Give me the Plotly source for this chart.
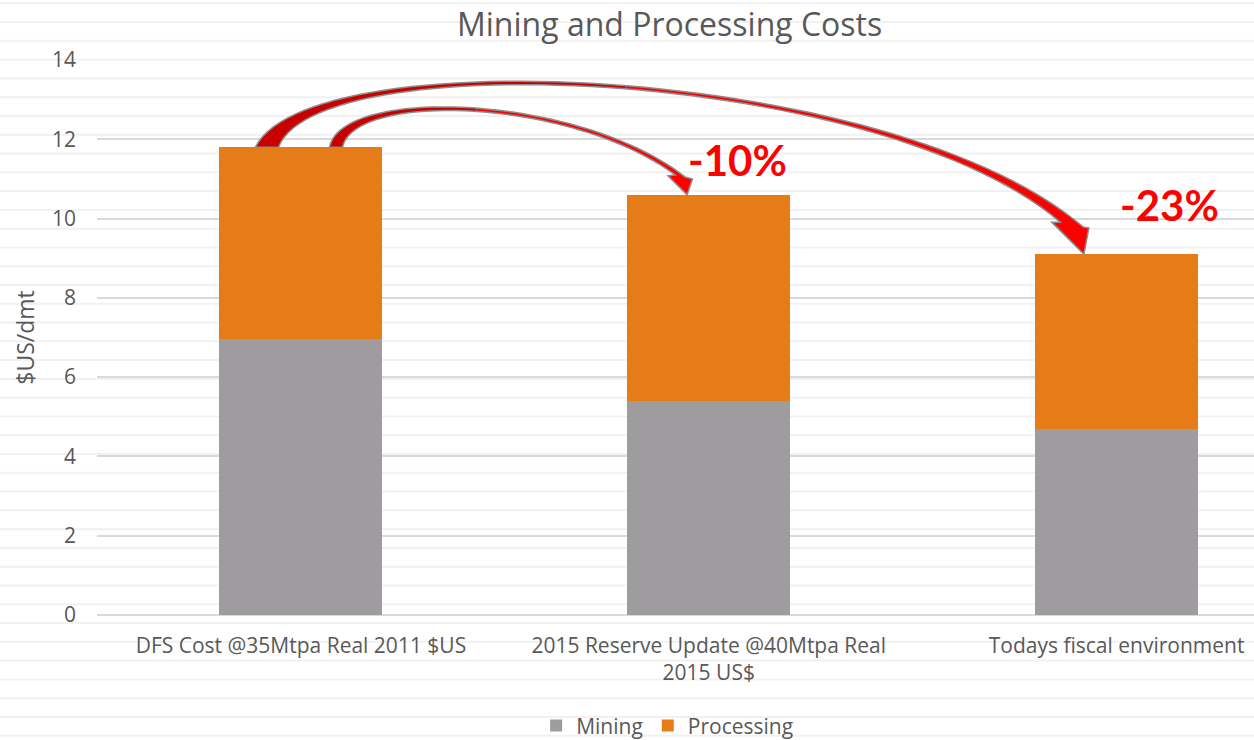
import numpy as np
import plotly.graph_objects as go

# ---------------- data ----------------
categories = [
    "DFS Cost @35Mtpa Real 2011 $US",
    "2015 Reserve Update @40Mtpa Real<br>2015 US$",
    "Todays fiscal environment",
]
mining = [6.95, 5.4, 4.7]
processing = [4.85, 5.2, 4.4]
change_labels = ["-10%", "-23%"]
y_ticks = [0, 2, 4, 6, 8, 10, 12, 14]

# ---------------- style ----------------
GRAY = "#9E9C9F"
ORANGE = "#E67C17"
TEXT = "#595959"
FONT = "Open Sans"

x_pos = list(range(len(categories)))
totals = [m + p for m, p in zip(mining, processing)]

fig = go.Figure()
fig.add_trace(go.Bar(name="Mining", x=x_pos, y=mining, marker=dict(color=GRAY, line=dict(width=0)), width=0.4))
fig.add_trace(go.Bar(name="Processing", x=x_pos, y=processing, marker=dict(color=ORANGE, line=dict(width=0)), width=0.4))

shapes = []
# slide background stripes (decoration)
for k in range(40):
    py = 3.3 + 18.78 * k
    yp = (615 - py) / 555
    shapes.append(dict(type="line", xref="paper", yref="paper", x0=-0.09, x1=1.0, y0=yp, y1=yp,
                       line=dict(color="#F1F1F1", width=2), layer="below"))


def bez(p0, p1, p2, p3, n=60):
    t = np.linspace(0, 1, n)[:, None]
    p0, p1, p2, p3 = map(np.array, (p0, p1, p2, p3))
    return ((1 - t) ** 3) * p0 + 3 * ((1 - t) ** 2) * t * p1 + 3 * (1 - t) * t ** 2 * p2 + t ** 3 * p3


def path_of(pts):
    return "M " + " L ".join(f"{x:.4f},{y:.4f}" for x, y in pts) + " Z"


def curved_arrow(outer, inner, head, split=30):
    o = bez(*outer)
    i = bez(*inner)
    w_out, tip, w_in = head
    tail = list(o[:split + 1]) + list(i[:split + 1][::-1])
    front = list(o[split:]) + [w_out, tip, w_in] + list(i[split:][::-1])
    full = list(o) + [w_out, tip, w_in] + list(i[::-1])
    shapes.append(dict(type="path", xref="x", yref="y", path=path_of(tail), fillcolor="#C80000",
                       line=dict(width=0), layer="above"))
    shapes.append(dict(type="path", xref="x", yref="y", path=path_of(front), fillcolor="#FF0000",
                       line=dict(width=0), layer="above"))
    shapes.append(dict(type="path", xref="x", yref="y", path=path_of(full), fillcolor="rgba(0,0,0,0)",
                       line=dict(color="#8C8C8C", width=1.5), layer="above"))


# big arrow: from first bar to third bar
c0, c2 = x_pos[0], x_pos[2]
curved_arrow(
    outer=[(c0 - 0.1115, totals[0]), (c0 + 0.02, 14.55), (1.45, 13.9), (c2 - 0.082, totals[2] + 0.69)],
    inner=[(c0 - 0.055, totals[0]), (c0 + 0.04, 14.4), (1.42, 13.8), (c2 - 0.138, totals[2] + 0.81)],
    head=[(c2 - 0.068, totals[2] + 0.66), (c2 - 0.08, totals[2]), (c2 - 0.159, totals[2] + 0.81)],
)
# small arrow: from first bar to second bar
c1 = x_pos[1]
curved_arrow(
    outer=[(c0 + 0.07, totals[0]), (c0 + 0.1, 13.35), (0.68, 13.15), (c1 - 0.058, totals[1] + 0.45)],
    inner=[(c0 + 0.102, totals[0]), (c0 + 0.13, 13.2), (0.66, 13.05), (c1 - 0.082, totals[1] + 0.5)],
    head=[(c1 - 0.04, totals[1] + 0.4), (c1 - 0.053, totals[1]), (c1 - 0.1, totals[1] + 0.48)],
)

annotations = [
    dict(x=x_pos[1] + 0.07, y=totals[1] + 0.88, text=change_labels[0], showarrow=False, xref="x", yref="y",
         font=dict(family="Lato", size=42, color="#FF0000", weight="bold"), xanchor="center", yanchor="middle"),
    dict(x=x_pos[2] + 0.131, y=totals[2] + 1.24, text=change_labels[1], showarrow=False, xref="x", yref="y",
         font=dict(family="Lato", size=42, color="#FF0000", weight="bold"), xanchor="center", yanchor="middle"),
]

fig.update_layout(
    barmode="stack",
    width=1254, height=740,
    margin=dict(l=97, r=0, t=60, b=125),
    paper_bgcolor="white",
    plot_bgcolor="rgba(0,0,0,0)",
    font=dict(family=FONT, color=TEXT),
    title=dict(text="Mining and Processing Costs", font=dict(size=32, color=TEXT, family=FONT),
               x=0.534, xref="container", xanchor="center", y=0.966, yref="container", yanchor="middle"),
    xaxis=dict(tickvals=x_pos, ticktext=categories, range=[-0.5, 2.337], showgrid=False, zeroline=False,
               tickfont=dict(size=21, color=TEXT), ticks="", showline=False, ticklabelstandoff=16),
    yaxis=dict(range=[0, 14], tickvals=y_ticks, showgrid=True, gridcolor="#D9D9D9", gridwidth=1.5,
               zeroline=True, zerolinecolor="#D9D9D9", zerolinewidth=1.5,
               tickfont=dict(size=21, color=TEXT), ticks="", ticklabelstandoff=20,
               title=dict(text="$US/dmt", font=dict(size=23, color=TEXT), standoff=10)),
    legend=dict(orientation="h", xref="container", yref="container", x=0.532, y=0.019, traceorder="normal",
                xanchor="center", yanchor="middle", font=dict(size=21, color=TEXT), bgcolor="rgba(0,0,0,0)"),
    shapes=shapes,
    annotations=annotations,
    bargap=0.6,
)

fig.write_html("out.html", config={"displayModeBar": False},
               post_script="document.body.style.margin='0';document.body.style.padding='0';")
